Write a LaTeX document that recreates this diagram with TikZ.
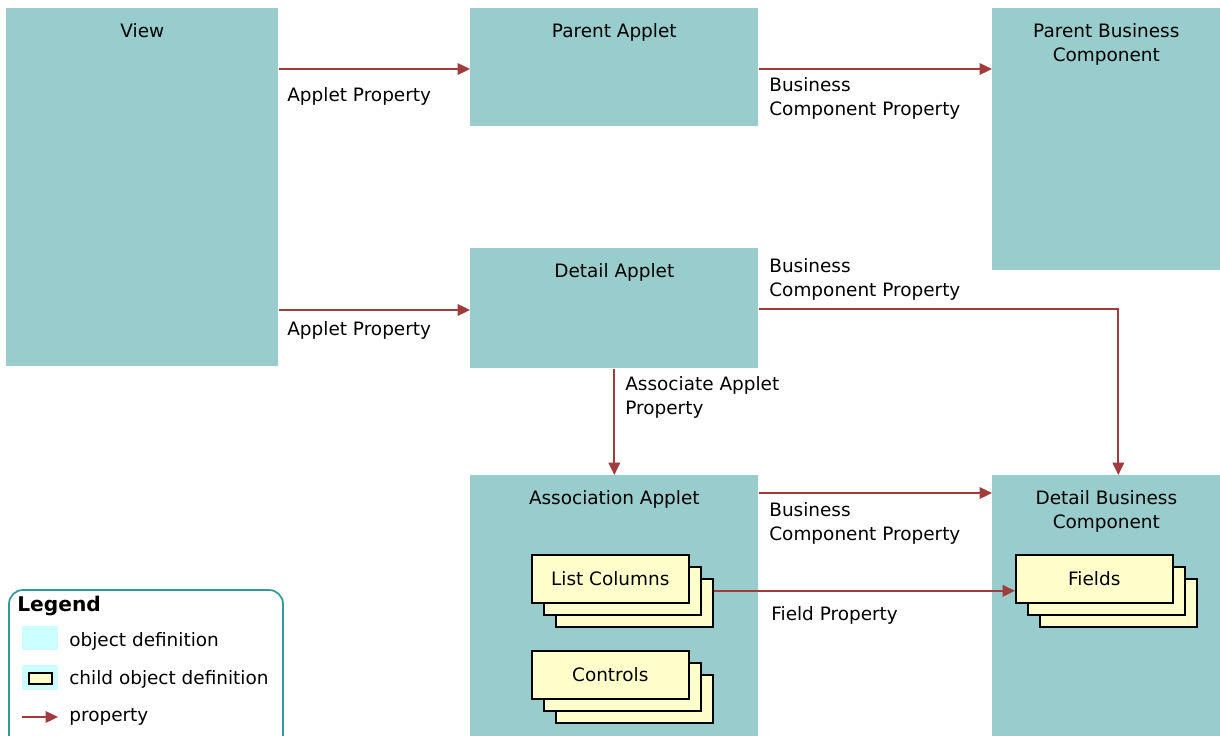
\documentclass[tikz,border=0pt]{standalone}
\usepackage{fontspec}
\setmainfont{DejaVu Sans}
\usetikzlibrary{arrows.meta,positioning,calc}
\definecolor{objteal}{HTML}{99CCCC}
\definecolor{cardyellow}{HTML}{FFFFCC}
\definecolor{propred}{HTML}{A03C3C}
\definecolor{legcyan}{HTML}{CCFFFF}
\definecolor{legborder}{HTML}{339999}
\newcommand{\txt}{\fontsize{10.5}{13.6}\selectfont}
\tikzset{
  objdef/.style={fill=objteal, anchor=north west, inner sep=0pt},
  title/.style={anchor=north, inner sep=0pt, align=center, font=\txt},
  card/.style={draw=black, line width=0.9pt, fill=cardyellow, anchor=north west,
    minimum width=3.14cm, minimum height=0.96cm, inner sep=0pt, font=\txt},
  proparrow/.style={draw=propred, line width=1.1pt, -{Triangle[length=7pt,width=6.5pt]}},
  proplabel/.style={anchor=west, align=left, inner sep=0pt, font=\txt},
}
\begin{document}
\begin{tikzpicture}[x=0.02cm, y=-0.02cm]
  \useasboundingbox (0,0) rectangle (1220,736);
  % object definitions
  \node[objdef, minimum width=5.44cm, minimum height=7.16cm] (view) at (6,8) {};
  \node[objdef, minimum width=5.76cm, minimum height=2.36cm] (papplet) at (470,8) {};
  \node[objdef, minimum width=4.56cm, minimum height=5.24cm] (pbc) at (992,8) {};
  \node[objdef, minimum width=5.76cm, minimum height=2.4cm] (dapplet) at (470,248) {};
  \node[objdef, minimum width=5.76cm, minimum height=5.3cm] (assoc) at (470,475) {};
  \node[objdef, minimum width=4.56cm, minimum height=5.3cm] (dbc) at (992,475) {};
  \node[title] (viewtitle) at ($(view.north)+(0,15)$) {View};
  \node[title] (papplettitle) at ($(papplet.north)+(0,15)$) {Parent Applet};
  \node[title] (pbctitle) at ($(pbc.north)+(0,15)$) {Parent Business\\Component};
  \node[title] (dapplettitle) at ($(dapplet.north)+(0,15)$) {Detail Applet};
  \node[title] (assoctitle) at ($(assoc.north)+(0,15)$) {Association Applet};
  \node[title] (dbctitle) at ($(dbc.north)+(0,15)$) {Detail Business\\Component};
  % child object definitions
  \node[card] (lcol3) at (555,578) {};
  \node[card] (lcol2) at (543,566) {};
  \node[card] (lcol1) at (531,554) {List Columns};
  \node[card] (ctrl3) at (555,674) {};
  \node[card] (ctrl2) at (543,662) {};
  \node[card] (ctrl1) at (531,650) {Controls};
  \node[card] (fld3) at (1039,578) {};
  \node[card] (fld2) at (1027,566) {};
  \node[card] (fld1) at (1015,554) {Fields};
  % properties
  \draw[proparrow] ($(view.north east)+(0,61)$) -- ($(papplet.north west)+(0,61)$);
  \draw[proparrow] ($(papplet.north east)+(0,61)$) -- ($(pbc.north west)+(0,61)$);
  \draw[proparrow] ($(view.north east)+(0,302)$) -- ($(dapplet.north west)+(0,62)$);
  \draw[proparrow] ($(dapplet.north east)+(0,61)$) -| ($(dbc.north)+(12,0)$);
  \draw[proparrow] (dapplet.south) -- (assoc.north);
  \draw[proparrow] ($(assoc.north east)+(0,18)$) -- ($(dbc.north west)+(0,18)$);
  \draw[proparrow] (lcol3.east |- lcol2.east) -- (lcol2.east -| fld1.west);
  \node[proplabel] (approp1) at (287,96) {Applet Property};
  \node[proplabel] (approp2) at (287,330) {Applet Property};
  \node[proplabel] (bcprop1) at (769,98) {Business\\Component Property};
  \node[proplabel] (bcprop2) at (769,279) {Business\\Component Property};
  \node[proplabel] (asprop) at (625,397) {Associate Applet\\Property};
  \node[proplabel] (bcprop3) at (769,523) {Business\\Component Property};
  \node[proplabel] (fldprop) at (771,615) {Field Property};
  % legend
  \draw[legborder, line width=1pt, rounded corners=8pt] (9,590) rectangle (283,760);
  \node[anchor=west, inner sep=0pt, font=\fontsize{11.5}{14}\selectfont\bfseries] (legtitle) at (17,606) {Legend};
  \fill[legcyan] (22,626) rectangle (58,650);
  \fill[legcyan] (22,665) rectangle (58,690);
  \draw[black, line width=0.9pt, fill=cardyellow] (29,673) rectangle (52,684);
  \coordinate (legfrom) at (22,717);
  \coordinate (legto) at (58,717);
  \draw[proparrow] (legfrom) -- (legto);
  \node[proplabel] (legobj) at (69,641) {object definition};
  \node[proplabel] (legchild) at (69,679) {child object definition};
  \node[proplabel] (legprop) at (69,717) {property};
\end{tikzpicture}
\end{document}
